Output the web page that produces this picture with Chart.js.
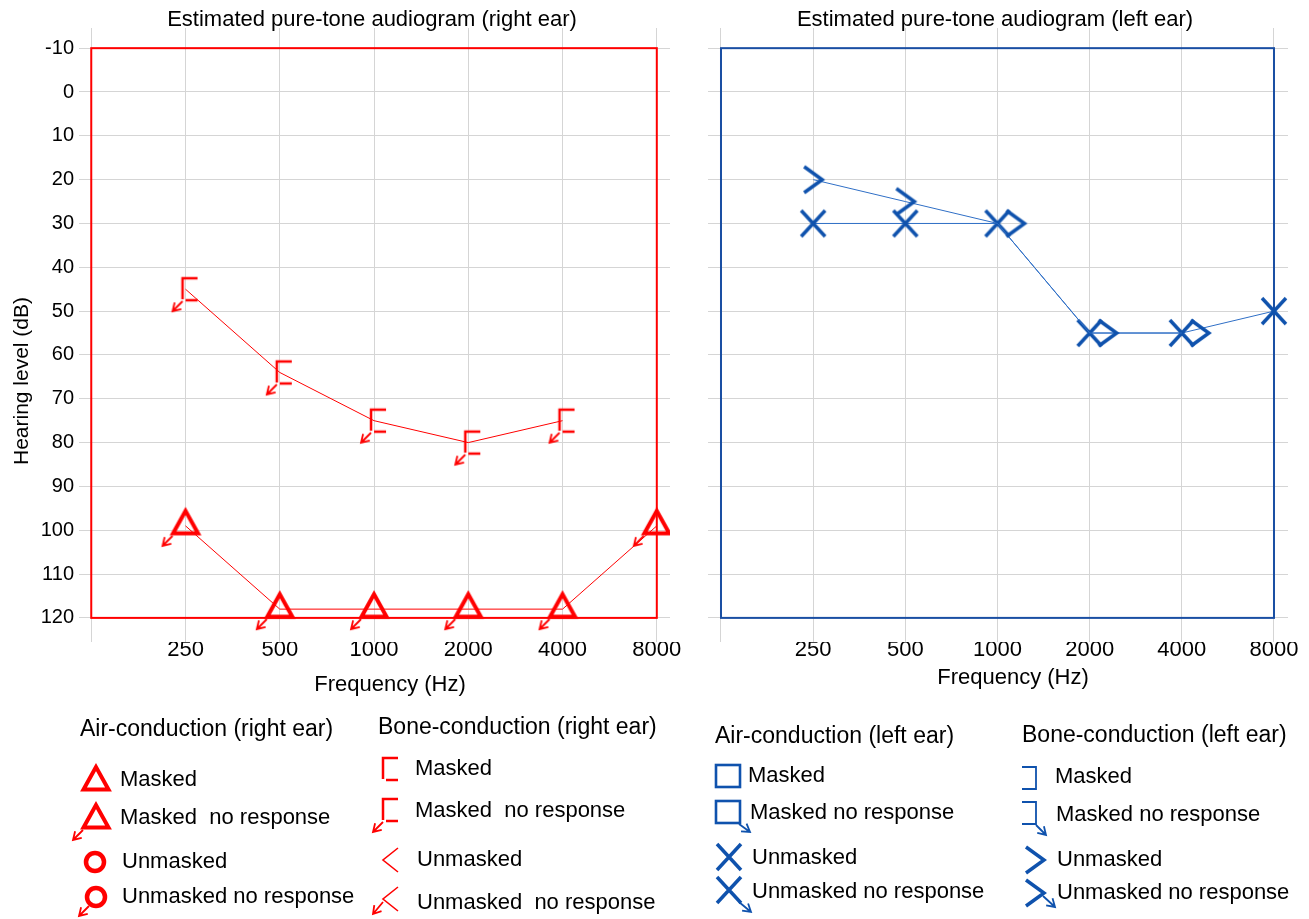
<!DOCTYPE html>
<html>
<head>
<meta charset="utf-8">
<script src="https://cdn.jsdelivr.net/npm/chart.js@4.4.1/dist/chart.umd.min.js"></script>
<style>
  html, body { margin: 0; padding: 0; background: #fff; }
  #leftChart { position: absolute; left: 0; top: 0; }
  #rightChart { position: absolute; left: 690px; top: 0; }
</style>
</head>
<body>
<canvas id="leftChart" width="690" height="919"></canvas>
<canvas id="rightChart" width="619" height="919"></canvas>
<script>
// frequencies (Hz) and hearing level ticks (dB)
const freqs = ["250", "500", "1000", "2000", "4000", "8000"];
const dbTicks = [-10, 0, 10, 20, 30, 40, 50, 60, 70, 80, 90, 100, 110, 120];

// right ear (red), masked, no response
const airRightMaskedNR = [99, 118, 118, 118, 118, 99];
const boneRightMaskedNR = [45, 64, 75, 80, 75, null];

// left ear (blue), unmasked
const airLeftUnmasked = [30, 30, 30, 55, 55, 50];
const boneLeftUnmasked = [20, 25, 30, 55, 55, null];

const RED = "#ff0000";
const BLUE = "#0f52ad";
const BLUE_LINE = "#2f6fc6";
const GRID = "#d5d5d5";
const FONT = '"Liberation Sans", Arial, sans-serif';

// glyphs //
function glyph(draw) {
  const c = document.createElement("canvas");
  c.width = 72; c.height = 72;
  const g = c.getContext("2d");
  g.translate(36, 36);
  g.lineCap = "butt";
  g.lineJoin = "miter";
  draw(g);
  return c;
}

function arrow(g, x0, y0, x1, y1, w) {
  g.save();
  g.lineWidth = w || 1.8;
  g.beginPath();
  g.moveTo(x0, y0);
  g.lineTo(x1, y1);
  const a = Math.atan2(y0 - y1, x0 - x1);
  g.moveTo(x1 + 9 * Math.cos(a + 0.55), y1 + 9 * Math.sin(a + 0.55));
  g.lineTo(x1, y1);
  g.lineTo(x1 + 9 * Math.cos(a - 0.55), y1 + 9 * Math.sin(a - 0.55));
  g.stroke();
  g.restore();
}

function triangle(nr) {
  return glyph(g => {
    g.strokeStyle = RED;
    g.lineWidth = 4;
    g.beginPath();
    g.moveTo(0, -15); g.lineTo(-12.5, 7.5); g.lineTo(12.5, 7.5); g.closePath();
    g.stroke();
    if (nr) arrow(g, -13, 10, -23, 20);
  });
}

function circle(nr) {
  return glyph(g => {
    g.strokeStyle = RED;
    g.lineWidth = 4.5;
    g.beginPath(); g.arc(0, 0, 9, 0, Math.PI * 2); g.stroke();
    if (nr) arrow(g, -7, 9, -17, 19);
  });
}

function bracketL(nr) {
  return glyph(g => {
    g.strokeStyle = RED;
    g.lineWidth = 2.5;
    g.beginPath();
    g.moveTo(12, -11); g.lineTo(-3, -11); g.lineTo(-3, 10);
    g.moveTo(0, 11); g.lineTo(12, 11);
    g.stroke();
    if (nr) arrow(g, -3, 12, -13, 22);
  });
}

function lessThan(nr) {
  return glyph(g => {
    g.strokeStyle = RED;
    g.lineWidth = 1.6;
    g.beginPath();
    g.moveTo(8, -12); g.lineTo(-7, 0); g.lineTo(8, 12);
    g.stroke();
    if (nr) arrow(g, -7, 3, -17, 15);
  });
}

function square(nr) {
  return glyph(g => {
    g.strokeStyle = BLUE;
    g.lineWidth = 2.6;
    g.strokeRect(-12, -11, 24, 22);
    if (nr) arrow(g, 11, 12, 22, 20);
  });
}

function cross(nr) {
  return glyph(g => {
    g.strokeStyle = BLUE;
    g.lineWidth = 3.5;
    g.beginPath();
    g.moveTo(-12, -13); g.lineTo(12, 13);
    g.moveTo(-12, 13); g.lineTo(12, -13);
    g.stroke();
    if (nr) arrow(g, 10, 12, 22, 22);
  });
}

function bracketR(nr) {
  return glyph(g => {
    g.strokeStyle = BLUE;
    g.lineWidth = 1.8;
    g.beginPath();
    g.moveTo(-9, -11); g.lineTo(5, -11); g.lineTo(5, 11); g.lineTo(-9, 11);
    g.stroke();
    if (nr) arrow(g, 5, 12, 15, 22);
  });
}

function greaterThan(nr, shift) {
  const s = shift || 0;
  return glyph(g => {
    g.strokeStyle = BLUE;
    g.lineWidth = 3.5;
    g.beginPath();
    g.moveTo(s - 9, -13); g.lineTo(s + 9, 0); g.lineTo(s - 9, 13);
    g.stroke();
    if (nr) arrow(g, s + 8, 3, s + 20, 14);
  });
}

const gTriNR = triangle(true);
const gBracketNR = bracketL(true);
const gCross = cross(false);
const gGt = greaterThan(false);
const gGtShift = greaterThan(false, 18);

const pts = arr => arr.map((v, i) => v == null ? null : { x: i + 1, y: v }).filter(p => p);

// decoration: frame, titles, legend //
function decor(cfg) {
  return {
    id: "decor",
    beforeDatasetsDraw(chart) {
      const { ctx, scales: { x, y } } = chart;
      const l = x.getPixelForValue(0), r = x.getPixelForValue(freqs.length);
      const t = y.getPixelForValue(dbTicks[0]), b = y.getPixelForValue(dbTicks[dbTicks.length - 1]);
      ctx.save();
      ctx.strokeStyle = cfg.frame;
      ctx.lineWidth = 2;
      ctx.strokeRect(l, t, r - l, b - t);
      ctx.restore();
    },
    afterDraw(chart) {
      const ctx = chart.ctx;
      ctx.save();
      ctx.fillStyle = "#000";
      ctx.textBaseline = "middle";
      ctx.textAlign = "center";
      ctx.font = "22px " + FONT;
      ctx.fillText(cfg.title, cfg.titleX, 20);
      ctx.fillText("Frequency (Hz)", cfg.xTitleX, cfg.xTitleY);
      if (cfg.yTitle) {
        ctx.save();
        ctx.translate(22, 381);
        ctx.rotate(-Math.PI / 2);
        ctx.font = "21px " + FONT;
        ctx.fillText(cfg.yTitle, 0, 0);
        ctx.restore();
      }
      ctx.textAlign = "left";
      cfg.legend.forEach(col => {
        ctx.font = "23px " + FONT;
        ctx.fillText(col.head, col.hx, col.hy);
        ctx.font = "22px " + FONT;
        col.items.forEach(it => {
          ctx.drawImage(it.g, it.gx - it.g.width / 2, it.gy - it.g.height / 2);
          ctx.fillText(it.text, it.tx, it.ty);
        });
      });
      ctx.restore();
    }
  };
}

function scalesFor(showY, yWidth, xMin, xMax) {
  return {
    x: {
      type: "linear",
      min: xMin,
      max: xMax,
      afterBuildTicks: s => { s.ticks = [0, ...freqs.map((f, i) => i + 1)].map(v => ({ value: v })); },
      afterFit: s => { s.height = 40; },
      grid: { color: GRID, lineWidth: 1, drawTicks: false },
      border: { display: false },
      ticks: {
        color: "#000",
        padding: -5,
        maxRotation: 0,
        autoSkip: false,
        font: { family: FONT, size: 22 },
        callback: v => v === 0 ? "" : freqs[v - 1]
      }
    },
    y: {
      type: "linear",
      reverse: true,
      min: -14.6,
      max: 125.5,
      afterBuildTicks: s => { s.ticks = dbTicks.map(v => ({ value: v })); },
      afterFit: s => { s.width = yWidth; },
      grid: { color: GRID, lineWidth: 1, drawTicks: false },
      border: { display: false },
      ticks: {
        display: showY,
        color: "#000",
        padding: 5,
        font: { family: FONT, size: 20 }
      }
    }
  };
}

const common = {
  responsive: false,
  animation: false,
  events: [],
  plugins: { legend: { display: false }, tooltip: { enabled: false } }
};

// right ear chart //
new Chart(document.getElementById("leftChart"), {
  type: "line",
  data: {
    datasets: [
      {
        data: pts(boneRightMaskedNR),
        borderColor: RED, borderWidth: 1, tension: 0,
        pointStyle: gBracketNR, pointRadius: 12
      },
      {
        data: pts(airRightMaskedNR),
        borderColor: RED, borderWidth: 1, tension: 0,
        pointStyle: gTriNR, pointRadius: 12
      }
    ]
  },
  options: {
    ...common,
    layout: { padding: { left: 0, right: 20, top: 28, bottom: 237 } },
    scales: scalesFor(true, 79, -0.13, 6.14)
  },
  plugins: [decor({
    frame: RED,
    title: "Estimated pure-tone audiogram (right ear)",
    titleX: 372,
    xTitleX: 390, xTitleY: 685,
    yTitle: "Hearing level (dB)",
    legend: [
      {
        head: "Air-conduction (right ear)", hx: 80, hy: 730,
        items: [
          { g: triangle(false), gx: 96, gy: 782, text: "Masked", tx: 120, ty: 780 },
          { g: triangle(true), gx: 96, gy: 820, text: "Masked  no response", tx: 120, ty: 818 },
          { g: circle(false), gx: 95, gy: 862, text: "Unmasked", tx: 122, ty: 862 },
          { g: circle(true), gx: 96, gy: 897, text: "Unmasked no response", tx: 122, ty: 897 }
        ]
      },
      {
        head: "Bone-conduction (right ear)", hx: 378, hy: 728,
        items: [
          { g: bracketL(false), gx: 386, gy: 769, text: "Masked", tx: 415, ty: 769 },
          { g: bracketL(true), gx: 386, gy: 810, text: "Masked  no response", tx: 415, ty: 811 },
          { g: lessThan(false), gx: 390, gy: 860, text: "Unmasked", tx: 417, ty: 860 },
          { g: lessThan(true), gx: 390, gy: 899, text: "Unmasked  no response", tx: 417, ty: 903 }
        ]
      }
    ]
  })]
});

// left ear chart //
new Chart(document.getElementById("rightChart"), {
  type: "line",
  data: {
    datasets: [
      {
        data: pts(boneLeftUnmasked),
        borderColor: BLUE_LINE, borderWidth: 1, tension: 0,
        pointStyle: c => {
          const i = c.raw ? c.raw.x - 1 : 0;
          return boneLeftUnmasked[i] === airLeftUnmasked[i] ? gGtShift : gGt;
        },
        pointRadius: 12
      },
      {
        data: pts(airLeftUnmasked),
        borderColor: BLUE_LINE, borderWidth: 1, tension: 0,
        pointStyle: gCross, pointRadius: 12
      }
    ]
  },
  options: {
    ...common,
    layout: { padding: { left: 0, right: 21, top: 28, bottom: 237 } },
    scales: scalesFor(false, 18, -0.141, 6.152)
  },
  plugins: [decor({
    frame: "#1a4fa3",
    title: "Estimated pure-tone audiogram (left ear)",
    titleX: 305,
    xTitleX: 323, xTitleY: 678,
    legend: [
      {
        head: "Air-conduction (left ear)", hx: 25, hy: 737,
        items: [
          { g: square(false), gx: 38, gy: 776, text: "Masked", tx: 58, ty: 776 },
          { g: square(true), gx: 38, gy: 812, text: "Masked no response", tx: 60, ty: 813 },
          { g: cross(false), gx: 39, gy: 857, text: "Unmasked", tx: 62, ty: 858 },
          { g: cross(true), gx: 39, gy: 890, text: "Unmasked no response", tx: 62, ty: 892 }
        ]
      },
      {
        head: "Bone-conduction (left ear)", hx: 332, hy: 736,
        items: [
          { g: bracketR(false), gx: 341, gy: 778, text: "Masked", tx: 365, ty: 777 },
          { g: bracketR(true), gx: 341, gy: 813, text: "Masked no response", tx: 366, ty: 815 },
          { g: greaterThan(false), gx: 345, gy: 860, text: "Unmasked", tx: 367, ty: 860 },
          { g: greaterThan(true), gx: 345, gy: 893, text: "Unmasked no response", tx: 367, ty: 893 }
        ]
      }
    ]
  })]
});
</script>
</body>
</html>
